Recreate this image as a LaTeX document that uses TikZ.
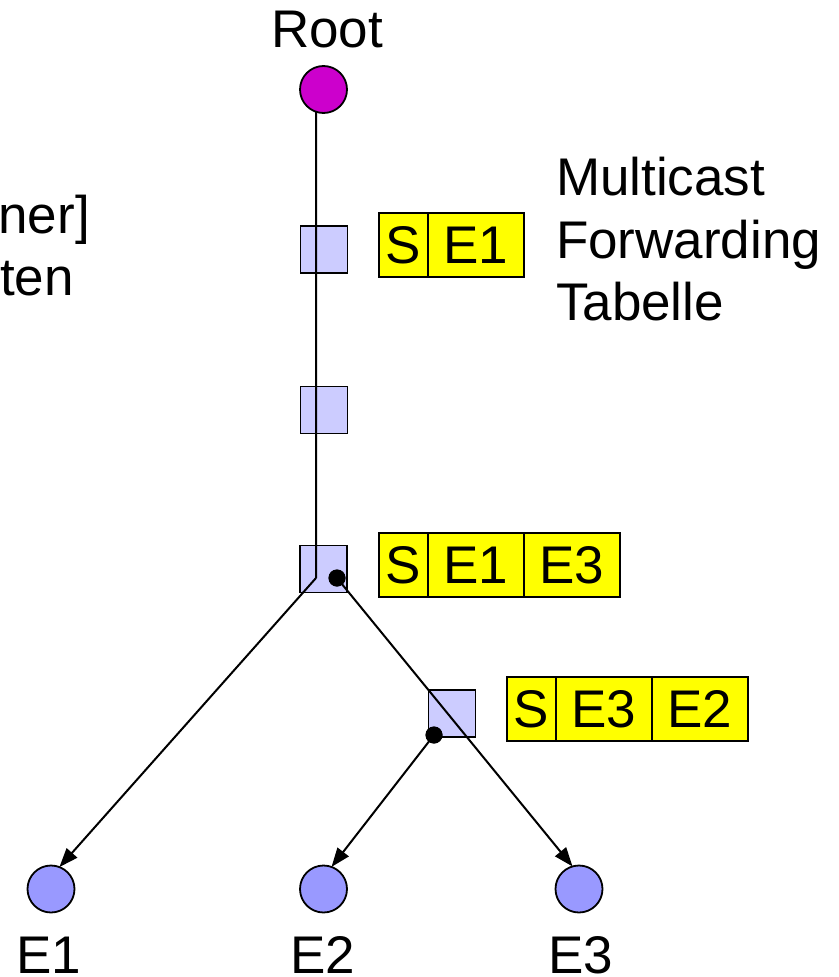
\documentclass[tikz,border=0pt]{standalone}
\usepackage{fontspec}
\setmainfont{Liberation Sans}
\usetikzlibrary{arrows.meta}
\definecolor{routerfill}{HTML}{CCCCFF}
\definecolor{endfill}{HTML}{9999FF}
\definecolor{rootfill}{HTML}{CC00CC}
\definecolor{tabfill}{HTML}{FFFF00}
\begin{document}
\begin{tikzpicture}[x=1pt,y=-1pt,
  every node/.style={inner sep=0pt, outer sep=0pt},
  lbl/.style={font=\fontsize{53}{62}\selectfont},
  router/.style={draw, line width=1.8pt, fill=routerfill, minimum size=47pt},
  endpt/.style={circle, draw, line width=1.8pt, fill=endfill, minimum size=47pt},
  rootpt/.style={circle, draw, line width=1.8pt, fill=rootfill, minimum size=47pt},
  jdot/.style={circle, fill=black, minimum size=17pt},
  cell/.style={draw, line width=1.6pt, fill=tabfill, minimum height=64pt, font=\fontsize{53}{62}\selectfont},
  scell/.style={cell, minimum width=49pt},
  ecell/.style={cell, minimum width=96pt},
  link/.style={line width=2pt},
  arr/.style={link, -{Triangle[length=19pt,width=14pt]}}
]
\useasboundingbox (0,0) rectangle (838,977);

% partially visible text on the left
\node[lbl, anchor=base west] (lt1) at (-1.5,233) {ner]};
\node[lbl, anchor=base west] (lt2) at (0,295) {ten};

% table label
\node[lbl, anchor=base west] (m1) at (556,195) {Multicast};
\node[lbl, anchor=base west] (m2) at (556,258) {Forwarding};
\node[lbl, anchor=base west] (m3) at (556,320) {Tabelle};

% root
\node[rootpt] (root) at (323.5,89.5) {};
\node[lbl, anchor=base] (rootlbl) at (327,47) {Root};

% routers
\node[router] (r1) at (324,249.5) {};
\node[router] (r2) at (324,410) {};
\node[router] (r3) at (323.5,569) {};
\node[router] (r4) at (452,713.5) {};

% end points
\node[endpt] (e1) at (51,889) {};
\node[endpt] (e2) at (323.5,889) {};
\node[endpt] (e3) at (579,889) {};
\node[lbl, anchor=base] (e1lbl) at (49,973) {E1};
\node[lbl, anchor=base] (e2lbl) at (323,973) {E2};
\node[lbl, anchor=base] (e3lbl) at (581,973) {E3};

% junction dots
\coordinate (j1) at (316,578);
\node[jdot] (d1) at (337,578) {};
\node[jdot] (d2) at (434,735) {};

% connectors
\draw[link] (root.252) -- (j1);
\draw[arr] (j1) -- (e1.69);
\draw[arr] (d1.center) -- (e3.106);
\draw[arr] (d2.center) -- (e2.70);
\node[jdot] at (d1) {};
\node[jdot] at (d2) {};

% forwarding tables
\node[scell, anchor=north west] (t1s) at (379,213) {S};
\node[ecell, anchor=west] (t1a) at (t1s.east) {E1};

\node[scell, anchor=north west] (t2s) at (379,533) {S};
\node[ecell, anchor=west] (t2a) at (t2s.east) {E1};
\node[ecell, anchor=west] (t2b) at (t2a.east) {E3};

\node[scell, anchor=north west] (t3s) at (507,677) {S};
\node[ecell, anchor=west] (t3a) at (t3s.east) {E3};
\node[ecell, anchor=west] (t3b) at (t3a.east) {E2};
\end{tikzpicture}
\end{document}
